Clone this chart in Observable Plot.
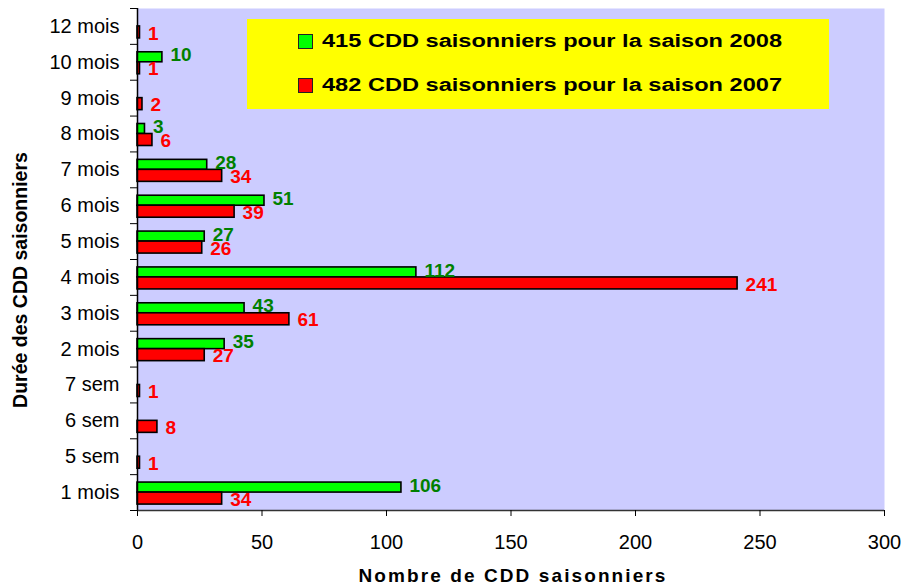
<!DOCTYPE html>
<html>
<head>
<meta charset="utf-8">
<script src="https://cdn.jsdelivr.net/npm/d3@7"></script>
<script src="https://cdn.jsdelivr.net/npm/@observablehq/plot@0.6"></script>
<style>
  html, body { margin: 0; padding: 0; background: #ffffff; }
  #wrap { position: relative; width: 906px; height: 585px; font-family: "Liberation Sans", Arial, sans-serif; }
  #legend { position: absolute; left: 247px; top: 19px; width: 582px; height: 90px; background: #FFFF00; }
  .lrow { position: absolute; left: 51px; height: 20px; display: flex; align-items: center; }
  .lsw { width: 13px; height: 13px; border: 1.5px solid #222; box-sizing: content-box; }
  .ltx { margin-left: 9px; font-weight: bold; font-size: 18px; white-space: nowrap; transform: scaleX(1.31); transform-origin: left center; color: #000; }
  #xtitle { position: absolute; left: 137px; width: 752px; top: 565px; text-align: center; font-weight: bold; font-size: 19px; letter-spacing: 2.1px; }
  #ytitle { position: absolute; left: 20px; top: 280px; transform: translate(-50%, -50%) rotate(-90deg); font-weight: bold; font-size: 19.5px; white-space: nowrap; }
</style>
</head>
<body>
<div id="wrap">
  <div id="chart"></div>
  <div id="legend"></div>
  <div id="xtitle"></div>
  <div id="ytitle"></div>
</div>
<script>
// Categories (top to bottom)
const categories = ["12 mois", "10 mois", "9 mois", "8 mois", "7 mois", "6 mois", "5 mois", "4 mois", "3 mois", "2 mois", "7 sem", "6 sem", "5 sem", "1 mois"];
// Saison 2008 (green)
const values2008 = [null, 10, null, 3, 28, 51, 27, 112, 43, 35, null, null, null, 106];
// Saison 2007 (red)
const values2007 = [1, 1, 2, 6, 34, 39, 26, 241, 61, 27, 1, 8, 1, 34];
const xTicks = [0, 50, 100, 150, 200, 250, 300];
const legendLabels = ["415 CDD saisonniers pour la saison 2008", "482 CDD saisonniers pour la saison 2007"];
const xTitle = "Nombre de CDD saisonniers";
const yTitle = "Durée des CDD saisonniers";

const d2008 = categories.map((c, i) => ({cat: c, v: values2008[i]})).filter(d => d.v != null);
const d2007 = categories.map((c, i) => ({cat: c, v: values2007[i]})).filter(d => d.v != null);

const W = 906, H = 585, mT = 8, mB = 75, mL = 137, mR = 22;
const bw = (H - mT - mB) / categories.length;
const GREEN = "#00FF00", RED = "#FF0000", GREEN_TXT = "#008000";

const chart = Plot.plot({
  width: W, height: H,
  marginTop: mT, marginBottom: mB, marginLeft: mL, marginRight: mR,
  style: {fontFamily: "'Liberation Sans', Arial, sans-serif", fontSize: "20px", background: "transparent", color: "#000"},
  x: {domain: [0, 300], label: null},
  y: {domain: categories, padding: 0, round: false, label: null},
  marks: [
    Plot.frame({fill: "#CCCCFF", stroke: null}),
    Plot.barX(d2008, {y: "cat", x: "v", fill: GREEN, stroke: "#000", strokeWidth: 1.6, insetTop: bw / 2 - 10, insetBottom: bw / 2}),
    Plot.barX(d2007, {y: "cat", x: "v", fill: RED, stroke: "#000", strokeWidth: 1.6, insetTop: bw / 2, insetBottom: bw / 2 - 12}),
    Plot.text(d2008, {y: "cat", x: "v", text: d => String(d.v), dx: 8, dy: -7, textAnchor: "start", fill: GREEN_TXT, fontWeight: "bold", fontSize: 19}),
    Plot.text(d2007, {y: "cat", x: "v", text: d => String(d.v), dx: 8, dy: 7, textAnchor: "start", fill: RED, fontWeight: "bold", fontSize: 19}),
    Plot.ruleX([0], {stroke: "#000", strokeWidth: 1.5}),
    Plot.ruleY([categories[categories.length - 1]], {dy: bw / 2, stroke: "#333", strokeWidth: 1.5}),
    Plot.axisX(xTicks, {tickSize: 6, tickPadding: 18, fontSize: 20, stroke: "#000"}),
    Plot.axisY(categories, {tickSize: 7, tickFormat: () => "", dy: -bw / 2, stroke: "#000"}),
    Plot.axisY([categories[categories.length - 1]], {tickSize: 7, tickFormat: () => "", dy: bw / 2, stroke: "#000"}),
    Plot.axisY(categories, {tickSize: 0, tickPadding: 18, fontSize: 20})
  ]
});
document.getElementById("chart").appendChild(chart);

// Legend
const legend = document.getElementById("legend");
[[GREEN, legendLabels[0], 12], [RED, legendLabels[1], 56]].forEach(([col, txt, top]) => {
  const row = document.createElement("div");
  row.className = "lrow";
  row.style.top = top + "px";
  const sw = document.createElement("div");
  sw.className = "lsw";
  sw.style.background = col;
  const t = document.createElement("div");
  t.className = "ltx";
  t.textContent = txt;
  row.appendChild(sw); row.appendChild(t);
  legend.appendChild(row);
});
document.getElementById("xtitle").textContent = xTitle;
document.getElementById("ytitle").textContent = yTitle;
</script>
</body>
</html>
